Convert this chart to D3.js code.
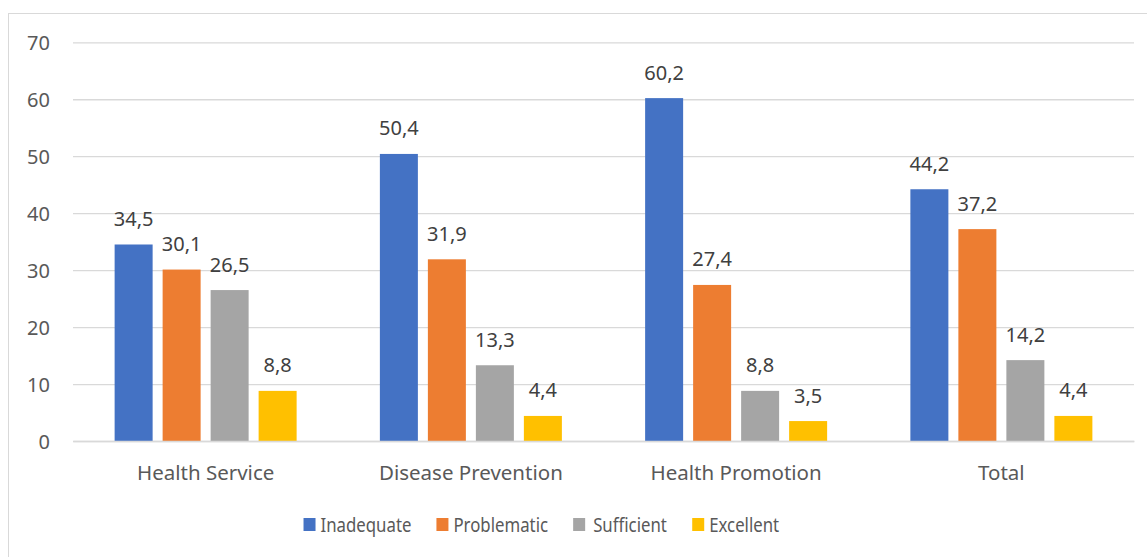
<!DOCTYPE html>
<html>
<head>
<meta charset="utf-8">
<script src="https://cdn.jsdelivr.net/npm/d3@7"></script>
<style>
  html, body { margin: 0; padding: 0; background: #fff; }
  svg { display: block; }
  text { font-family: "Noto Sans", "Open Sans", sans-serif; }
</style>
</head>
<body>
<svg id="chart" width="1147" height="557"></svg>
<script>
// Categories and series
const categories = ["Health Service", "Disease Prevention", "Health Promotion", "Total"];
const seriesNames = ["Inadequate", "Problematic", "Sufficient", "Excellent"];
const seriesColors = ["#4472C4", "#ED7D31", "#A5A5A5", "#FFC000"];

// Values per series, in category order
const inadequate  = [34.5, 50.4, 60.2, 44.2];
const problematic = [30.1, 31.9, 27.4, 37.2];
const sufficient  = [26.5, 13.3, 8.8, 14.2];
const excellent   = [8.8, 4.4, 3.5, 4.4];

const yTicks = [0, 10, 20, 30, 40, 50, 60, 70];

const seriesValues = [inadequate, problematic, sufficient, excellent];

const svg = d3.select("#chart");
const W = 1147, H = 557;

// Chart frame
svg.append("rect")
  .attr("x", 8.5).attr("y", 13.5)
  .attr("width", W + 10).attr("height", H + 10)
  .attr("fill", "#fff")
  .attr("stroke", "#d9d9d9").attr("stroke-width", 1);

const plot = { left: 73, right: 1134, top: 42.3, bottom: 441 };

const x0 = d3.scaleBand().domain(categories).range([plot.left, plot.right]).padding(0);
const x1 = d3.scaleBand().domain(seriesNames).range([-96, 96])
  .paddingInner(0.2083).paddingOuter(0.1042);
const y = d3.scaleLinear().domain([0, 70]).range([plot.bottom, plot.top]);

// Gridlines and value axis labels
const yAxis = d3.axisLeft(y).tickValues(yTicks).tickSize(-(plot.right - plot.left)).tickPadding(23);
const gy = svg.append("g").attr("transform", `translate(${plot.left},0)`).call(yAxis);
gy.select(".domain").remove();
gy.selectAll(".tick line").attr("stroke", "#d9d9d9").attr("stroke-width", 1.3);
gy.selectAll(".tick text")
  .attr("fill", "#595959").attr("font-size", 20)
  .attr("dy", "0.36em");

// Bars
const groups = svg.append("g").selectAll("g")
  .data(categories)
  .join("g")
  .attr("transform", c => `translate(${x0(c) + x0.bandwidth() / 2},0)`);

groups.selectAll("rect")
  .data((c, i) => seriesNames.map((s, k) => ({ s, k, v: seriesValues[k][i] })))
  .join("rect")
  .attr("x", d => x1(d.s))
  .attr("width", x1.bandwidth())
  .attr("y", d => y(d.v))
  .attr("height", d => y(0) - y(d.v))
  .attr("fill", d => seriesColors[d.k]);

// Value labels
const fmt = v => d3.format(".1f")(v).replace(".", ",");
groups.selectAll("text.val")
  .data((c, i) => seriesNames.map((s, k) => ({ s, k, v: seriesValues[k][i] })))
  .join("text")
  .attr("class", "val")
  .attr("x", d => x1(d.s) + x1.bandwidth() / 2)
  .attr("y", d => y(d.v) - 18.5)
  .attr("text-anchor", "middle")
  .attr("fill", "#404040")
  .attr("font-size", 20)
  .text(d => fmt(d.v));

// Category axis
const xAxis = d3.axisBottom(x0).tickSize(0).tickPadding(0);
const gx = svg.append("g").attr("transform", `translate(0,${plot.bottom})`).call(xAxis);
gx.select(".domain").attr("stroke", "#d9d9d9").attr("stroke-width", 1.3);
gx.selectAll(".tick text")
  .attr("fill", "#595959").attr("font-size", 20.5)
  .attr("y", 38.5).attr("dy", 0);

// Legend (labels set in a horizontally condensed face)
const legend = svg.append("g");
const items = legend.selectAll("g").data(seriesNames).join("g");
items.append("rect").attr("width", 12).attr("height", 13).attr("y", 518)
  .attr("fill", (d, i) => seriesColors[i]);
items.append("g")
  .attr("transform", (d, i) => `translate(${i === 2 ? 20 : 17},532) scale(0.84,1)`)
  .append("text")
  .attr("fill", "#595959").attr("font-size", 20)
  .text(d => d);
let cx = 0;
const widths = [];
items.each(function () { widths.push(this.getBBox().width); });
const gap = 25;
const total = d3.sum(widths) + gap * (widths.length - 1);
cx = 541.5 - total / 2;
items.attr("transform", (d, i) => {
  const t = `translate(${cx},0)`;
  cx += widths[i] + gap;
  return t;
});
</script>
</body>
</html>
